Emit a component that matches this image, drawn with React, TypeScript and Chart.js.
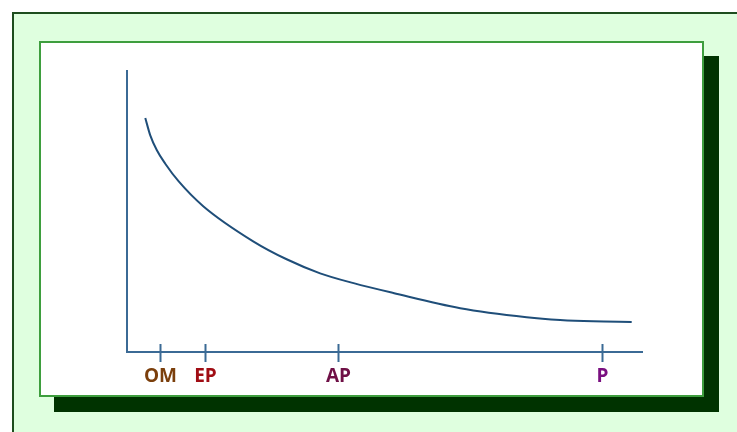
import { useEffect, useRef } from "react";
import { Chart, registerables } from "chart.js";

Chart.register(...registerables);

// curve (x and y on a 0..100 scale)
const curveX = [3.55, 4.5, 5.8, 7.4, 10.0, 14.8, 24.5, 31.0, 37.5, 44.0, 51.7, 64.7, 77.6, 84.1, 90.5, 98];
const curveY = [83.3, 77.2, 71.8, 67.1, 60.8, 51.9, 39.4, 33.0, 28.0, 24.5, 21.0, 15.6, 12.4, 11.4, 10.9, 10.7];

// named marks on the horizontal axis
const markLabels = ["OM", "EP", "AP", "P"];
const markValues = [6.5, 15.1, 40.9, 92.3];
const markColors = ["#7b3f0c", "#a00d14", "#6f1046", "#7a1080"];

const axisColor = "#3b6a95";

const markPlugin = {
  id: "marks",
  afterDraw(chart: Chart) {
    const { ctx, chartArea } = chart;
    const xScale = chart.scales.x;
    const bottom = chartArea.bottom;
    ctx.save();
    markValues.forEach((v, i) => {
      const px = Math.round(xScale.getPixelForValue(v)) + 0.5;
      ctx.strokeStyle = axisColor;
      ctx.lineWidth = 2;
      ctx.beginPath();
      ctx.moveTo(px, bottom - 8);
      ctx.lineTo(px, bottom + 10);
      ctx.stroke();

      ctx.fillStyle = markColors[i];
      ctx.font = "bold 19px 'Open Sans', sans-serif";
      ctx.textAlign = "center";
      ctx.textBaseline = "alphabetic";
      ctx.fillText(markLabels[i], px, bottom + 30);
    });
    ctx.restore();
  },
};

function CurveChart() {
  const chartRef = useRef<HTMLCanvasElement>(null);
  const chartInstance = useRef<Chart | null>(null);

  useEffect(() => {
    if (!chartRef.current) return;
    if (chartInstance.current) chartInstance.current.destroy();

    const ctx = chartRef.current.getContext("2d");
    if (!ctx) return;

    chartInstance.current = new Chart(ctx, {
      type: "line",
      data: {
        datasets: [
          {
            data: curveX.map((x, i) => ({ x, y: curveY[i] })),
            borderColor: "#1f4e79",
            borderWidth: 2,
            pointRadius: 0,
            fill: false,
            tension: 0.4,
            cubicInterpolationMode: "monotone",
          },
        ],
      },
      options: {
        responsive: false,
        animation: false,
        layout: {
          padding: { left: 127, top: 71, right: 95, bottom: 80 },
        },
        plugins: {
          legend: { display: false },
          tooltip: { enabled: false },
        },
        scales: {
          x: {
            type: "linear",
            min: 0,
            max: 100,
            grid: { display: false, drawTicks: false },
            ticks: { display: false },
            border: { display: true, color: axisColor, width: 2 },
          },
          y: {
            type: "linear",
            min: 0,
            max: 100,
            grid: { display: false, drawTicks: false },
            ticks: { display: false },
            border: { display: true, color: axisColor, width: 2 },
          },
        },
      },
      plugins: [markPlugin],
    });

    return () => {
      if (chartInstance.current) {
        chartInstance.current.destroy();
        chartInstance.current = null;
      }
    };
  }, []);

  return (
    <canvas
      ref={chartRef}
      width={737}
      height={432}
      style={{ position: "absolute", left: 0, top: 0 }}
    />
  );
}

export default function App() {
  return (
    <div
      style={{
        position: "absolute",
        left: 0,
        top: 0,
        width: 737,
        height: 432,
        overflow: "hidden",
        background: "#ffffff",
      }}
    >
      <div
        style={{
          position: "absolute",
          left: 12,
          top: 12,
          width: 780,
          height: 480,
          background: "#dfffdf",
          border: "2px solid #1e4d1e",
        }}
      />
      <div
        style={{
          position: "absolute",
          left: 39,
          top: 41,
          width: 661,
          height: 352,
          background: "#ffffff",
          border: "2px solid #3e9e3e",
          boxShadow: "15px 15px 0 #003300",
        }}
      />
      <CurveChart />
    </div>
  );
}
